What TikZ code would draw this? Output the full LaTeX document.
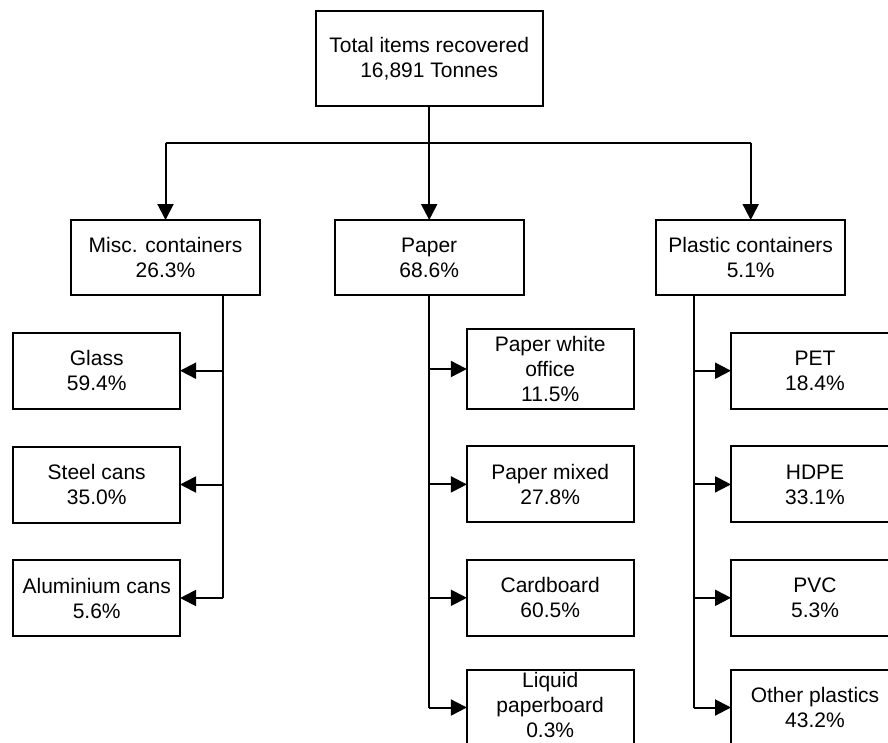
\documentclass[tikz,border=0pt]{standalone}
\usepackage{fontspec}
\setmainfont{Liberation Sans}
\usetikzlibrary{arrows.meta}
\begin{document}
\begin{tikzpicture}[x=1pt,y=-1pt,
  box/.style={draw, line width=2pt, rectangle, inner sep=0pt, outer sep=0pt, align=center,
    font=\fontsize{21}{25}\selectfont, minimum height=76pt},
  topbox/.style={box, minimum width=227pt, minimum height=94.7pt},
  midbox/.style={box, minimum width=189pt, minimum height=75pt},
  leafbox/.style={box, minimum width=166.7pt},
  conn/.style={line width=2pt},
  arr/.style={conn, -{Triangle[length=16pt,width=16pt]}}]
\useasboundingbox (0,0) rectangle (888,742);
\clip (0,0) rectangle (888,742);
% top
\node[topbox] (top) at (429.2,58.4) {Total items recovered\\16,891 Tonnes};
% middle
\node[midbox] (misc) at (165.5,257.5) {Misc. containers\\26.3\%};
\node[midbox] (paper) at (429.2,257.5) {Paper\\68.6\%};
\node[midbox] (plast) at (750.7,257.5) {Plastic containers\\5.1\%};
% misc children
\node[leafbox] (glass) at (96.7,370.7) {Glass\\59.4\%};
\node[leafbox] (steel) at (96.7,484.5) {Steel cans\\35.0\%};
\node[leafbox] (alu) at (96.7,598) {Aluminium cans\\5.6\%};
% paper children
\node[leafbox, minimum height=80pt] (pwo) at (550.2,369) {Paper white\\office\\11.5\%};
\node[leafbox] (pmix) at (550.2,484.4) {Paper mixed\\27.8\%};
\node[leafbox] (card) at (550.2,597.8) {Cardboard\\60.5\%};
\node[leafbox] (liq) at (550.2,707.5) {};
\node[font=\fontsize{21}{25}\selectfont, align=center, inner sep=0pt] (liqtext) at ([yshift=3pt]liq.center) {Liquid\\paperboard\\0.3\%};
% plastic children
\node[leafbox, minimum width=168pt] (pet) at (815,370.7) {PET\\18.4\%};
\node[leafbox, minimum width=168pt] (hdpe) at (815,484.4) {HDPE\\33.1\%};
\node[leafbox, minimum width=168pt] (pvc) at (815,597.8) {PVC\\5.3\%};
\node[leafbox, minimum width=168pt] (oth) at (815,707.5) {Other plastics\\43.2\%};
% top connectors
\coordinate (hub) at (429.2,142.7);
\draw[conn] (top.south) -- (hub);
\draw[conn] (hub -| misc.north) -- (hub -| plast.north);
\draw[arr] (hub -| misc.north) -- (misc.north);
\draw[arr] (hub) -- (paper.north);
\draw[arr] (hub -| plast.north) -- (plast.north);
% misc connectors
\coordinate (mv) at (223.3,295);
\draw[conn] (mv) -- (mv |- alu.east);
\draw[arr] (mv |- glass.east) -- (glass.east);
\draw[arr] (mv |- steel.east) -- (steel.east);
\draw[arr] (mv |- alu.east) -- (alu.east);
% paper connectors
\draw[conn] (paper.south) -- (paper.south |- liq.west);
\draw[arr] (paper.south |- pwo.west) -- (pwo.west);
\draw[arr] (paper.south |- pmix.west) -- (pmix.west);
\draw[arr] (paper.south |- card.west) -- (card.west);
\draw[arr] (paper.south |- liq.west) -- (liq.west);
% plastic connectors
\coordinate (pv) at (694,295);
\draw[conn] (pv) -- (pv |- oth.west);
\draw[arr] (pv |- pet.west) -- (pet.west);
\draw[arr] (pv |- hdpe.west) -- (hdpe.west);
\draw[arr] (pv |- pvc.west) -- (pvc.west);
\draw[arr] (pv |- oth.west) -- (oth.west);
\end{tikzpicture}
\end{document}
